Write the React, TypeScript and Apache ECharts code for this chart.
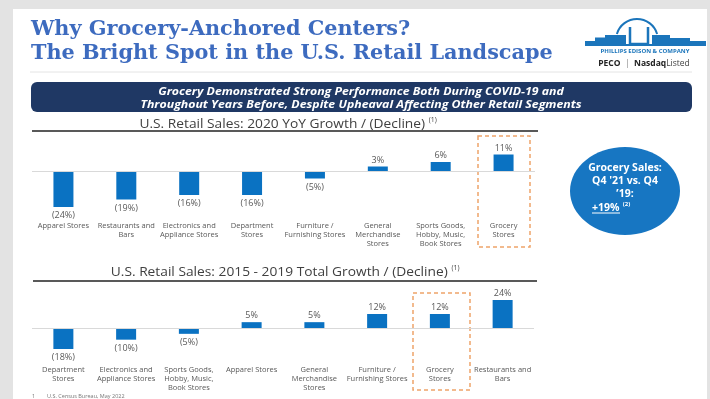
import React, { useEffect, useRef } from "react";
import * as echarts from "echarts";

const categories2020 = [
  "Apparel Stores",
  "Restaurants and\nBars",
  "Electronics and\nAppliance Stores",
  "Department\nStores",
  "Furniture /\nFurnishing Stores",
  "General\nMerchandise\nStores",
  "Sports Goods,\nHobby, Music,\nBook Stores",
  "Grocery\nStores",
];
const values2020 = [-24, -19, -16, -16, -5, 3, 6, 11];

const categories1519 = [
  "Department\nStores",
  "Electronics and\nAppliance Stores",
  "Sports Goods,\nHobby, Music,\nBook Stores",
  "Apparel Stores",
  "General\nMerchandise\nStores",
  "Furniture /\nFurnishing Stores",
  "Grocery\nStores",
  "Restaurants and\nBars",
];
const values1519 = [-18, -10, -5, 5, 5, 12, 12, 24];

const BAR = "#0a72c2";
const LABEL = "#595959";
const FONT = "'Open Sans', sans-serif";

const fmt = (v: number) => (v < 0 ? `(${Math.abs(v)}%)` : `${v}%`);

const toData = (vals: number[]) =>
  vals.map((v) => ({
    value: v,
    label: { position: v < 0 ? "bottom" : "top" },
  }));

export default function App() {
  const ref = useRef<HTMLDivElement>(null);
  useEffect(() => {
    if (!ref.current) return;
    const chart = echarts.init(ref.current, null, { renderer: "svg" });
    const blue = "#1b75bb";
    const catAxis = (idx: number, cats: string[]) => ({
      type: "category",
      gridIndex: idx,
      data: cats,
      position: "bottom",
      axisLine: { show: false, onZero: false },
      axisTick: { show: false },
      axisLabel: {
        interval: 0,
        margin: 1,
        fontFamily: FONT,
        fontSize: 7.5,
        lineHeight: 9,
        color: LABEL,
        verticalAlign: "top",
      },
    });
    const valAxis = (idx: number, min: number, max: number) => ({
      type: "value",
      gridIndex: idx,
      min,
      max,
      show: false,
      splitLine: { show: false },
    });
    const barSeries = (idx: number, vals: number[]) => ({
      type: "bar",
      xAxisIndex: idx,
      yAxisIndex: idx,
      barWidth: 20,
      data: toData(vals),
      itemStyle: { color: BAR },
      label: {
        show: true,
        distance: 3,
        fontFamily: FONT,
        fontSize: 9,
        color: LABEL,
        formatter: (p: any) => fmt(p.value),
      },
      markLine: {
        silent: true,
        symbol: "none",
        label: { show: false },
        lineStyle: { color: "#d9d9d9", type: "solid", width: 1 },
        data: [{ yAxis: 0 }],
      },
    });

    const option: any = {
      animation: false,
      grid: [
        { left: 32, top: 141, width: 503, height: 78 },
        { left: 32, top: 293, width: 502, height: 70 },
      ],
      xAxis: [catAxis(0, categories2020), catAxis(1, categories1519)],
      yAxis: [valAxis(0, -32, 20), valAxis(1, -30, 30)],
      series: [barSeries(0, values2020), barSeries(1, values1519)],
      graphic: [
        { type: "rect", z: -10, shape: { x: 0, y: 0, width: 710, height: 399 }, style: { fill: "#e3e3e3" } },
        { type: "rect", z: -9, shape: { x: 13, y: 9, width: 694, height: 400 }, style: { fill: "#ffffff" } },
        // Title
        {
          type: "text",
          x: 31,
          y: 40,
          scaleX: 1.04,
          style: {
            text: "Why Grocery-Anchored Centers?\nThe Bright Spot in the U.S. Retail Landscape",
            font: "bold 20px 'DejaVu Serif', serif",
            lineHeight: 24,
            fill: "#3d6bbf",
            verticalAlign: "middle",
          },
        },
        { type: "line", shape: { x1: 30, y1: 72, x2: 692, y2: 72 }, style: { stroke: "#e4e4e4", lineWidth: 1 } },
        // Logo
        {
          type: "arc",
          shape: { cx: 637, cy: 40, r: 21, startAngle: Math.PI + 0.29, endAngle: 2 * Math.PI - 0.29, clockwise: true },
          style: { stroke: blue, lineWidth: 2, fill: "none" },
        },
        {
          type: "polygon",
          shape: { points: [[585, 46], [585, 41], [595, 41], [595, 37.5], [605, 37.5], [605, 35], [626, 35], [626, 46]] },
          style: { fill: blue },
        },
        {
          type: "polygon",
          shape: { points: [[652, 46], [652, 35], [670, 35], [670, 38], [690, 38], [690, 41], [706, 41], [706, 46]] },
          style: { fill: blue },
        },
        {
          type: "polyline",
          shape: { points: [[630, 27], [630, 44], [648, 44], [648, 27]] },
          style: { stroke: blue, lineWidth: 2.5, fill: "none" },
        },
        { type: "rect", shape: { x: 626, y: 44, width: 26, height: 2 }, style: { fill: blue } },
        {
          type: "text",
          x: 645,
          y: 50.5,
          style: {
            text: "PHILLIPS EDISON & COMPANY",
            font: "bold 6px 'Open Sans', sans-serif",
            fill: blue,
            align: "center",
            verticalAlign: "middle",
          },
        },
        {
          type: "text",
          x: 644,
          y: 62,
          style: {
            text: "{b|PECO}{l|  |  }{b|Nasdaq}{r|Listed}",
            align: "center",
            verticalAlign: "middle",
            rich: {
              b: { fontFamily: FONT, fontWeight: "bold", fontSize: 8.5, fill: "#222" },
              l: { fontFamily: FONT, fontSize: 8.5, fill: "#888" },
              r: { fontFamily: FONT, fontSize: 8.5, fill: "#444" },
            },
          },
        },
        // Banner
        {
          type: "rect",
          shape: { x: 31, y: 82, width: 661, height: 30, r: 6 },
          style: { fill: "#1f3864" },
        },
        {
          type: "text",
          x: 361,
          y: 97,
          scaleX: 1.12,
          style: {
            text: "Grocery Demonstrated Strong Performance Both During COVID-19 and\nThroughout Years Before, Despite Upheaval Affecting Other Retail Segments",
            font: "italic bold 11px 'Open Sans', sans-serif",
            lineHeight: 13,
            fill: "#ffffff",
            align: "center",
            verticalAlign: "middle",
          },
        },
        // Chart 1 title
        {
          type: "text",
          x: 288,
          y: 123,
          scaleX: 1.06,
          style: {
            text: "{m|U.S. Retail Sales: 2020 YoY Growth / (Decline)} {s|(1)}",
            align: "center",
            verticalAlign: "middle",
            rich: {
              m: { fontFamily: FONT, fontSize: 13, fill: "#404040" },
              s: { fontFamily: FONT, fontSize: 6.5, fill: "#404040", padding: [0, 0, 7, 0] },
            },
          },
        },
        { type: "line", shape: { x1: 32, y1: 131, x2: 538, y2: 131 }, style: { stroke: "#595959", lineWidth: 2 } },
        // Chart 2 title
        {
          type: "text",
          x: 285,
          y: 271,
          scaleX: 1.06,
          style: {
            text: "{m|U.S. Retail Sales: 2015 - 2019 Total Growth / (Decline)} {s|(1)}",
            align: "center",
            verticalAlign: "middle",
            rich: {
              m: { fontFamily: FONT, fontSize: 13, fill: "#404040" },
              s: { fontFamily: FONT, fontSize: 6.5, fill: "#404040", padding: [0, 0, 7, 0] },
            },
          },
        },
        { type: "line", shape: { x1: 33, y1: 281, x2: 537, y2: 281 }, style: { stroke: "#595959", lineWidth: 2 } },
        // Dashed highlight boxes
        {
          type: "rect",
          shape: { x: 478, y: 136, width: 52, height: 111 },
          style: { fill: "none", stroke: "#eea46a", lineWidth: 1.5, lineDash: [4, 3] },
        },
        {
          type: "rect",
          shape: { x: 413, y: 293, width: 57, height: 97 },
          style: { fill: "none", stroke: "#eea46a", lineWidth: 1.5, lineDash: [4, 3] },
        },
        // Circle callout
        { type: "ellipse", shape: { cx: 625, cy: 191, rx: 55, ry: 44 }, style: { fill: "#1776c2" } },
        {
          type: "text",
          x: 625,
          y: 180,
          style: {
            text: "Grocery Sales:\nQ4 '21 vs. Q4\n\u201919:",
            font: "bold 10.5px 'Open Sans', sans-serif",
            lineHeight: 13,
            fill: "#fff",
            align: "center",
            verticalAlign: "middle",
          },
        },
        {
          type: "text",
          x: 592,
          y: 207,
          style: {
            text: "{m|+19%} {s|(2)}",
            align: "left",
            verticalAlign: "middle",
            rich: {
              m: { fontFamily: FONT, fontWeight: "bold", fontSize: 10.5, fill: "#fff" },
              s: { fontFamily: FONT, fontWeight: "bold", fontSize: 6, fill: "#fff", padding: [0, 0, 6, 0] },
            },
          },
        },
        { type: "line", shape: { x1: 592, y1: 213, x2: 620, y2: 213 }, style: { stroke: "#fff", lineWidth: 1 } },
        // Footnote
        {
          type: "text",
          x: 32,
          y: 396,
          style: { text: "1", font: "5.5px 'Open Sans', sans-serif", fill: "#777", verticalAlign: "middle" },
        },
        {
          type: "text",
          x: 47,
          y: 396,
          style: { text: "U.S. Census Bureau, May 2022", font: "5.5px 'Open Sans', sans-serif", fill: "#777", verticalAlign: "middle" },
        },
      ],
    };
    chart.setOption(option);
    return () => chart.dispose();
  }, []);
  return (
    <div
      ref={ref}
      style={{ position: "fixed", left: 0, top: 0, width: 710, height: 399 }}
    />
  );
}
